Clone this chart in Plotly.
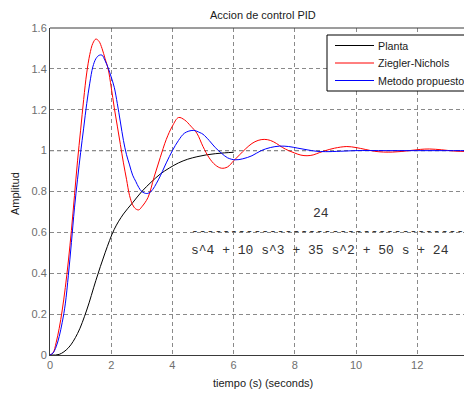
import plotly.graph_objects as go

# ---------------- data ----------------
t_planta = [0, 0.3, 0.6, 0.9, 1.2, 1.5, 1.8, 2.1, 2.4, 2.7, 3.0, 3.3, 3.6, 3.9,
            4.2, 4.5, 4.8, 5.1, 5.4, 5.7, 6.0]
y_planta = [0, 0.003, 0.035, 0.105, 0.22, 0.365, 0.50, 0.615, 0.69, 0.745, 0.80,
            0.845, 0.885, 0.915, 0.94, 0.958, 0.97, 0.979, 0.985, 0.989, 0.992]

t_zn = [0, 0.1, 0.2, 0.3, 0.4, 0.5, 0.6, 0.7, 0.8, 0.9, 1.0, 1.1, 1.2, 1.3, 1.4,
        1.5, 1.6, 1.7, 1.8, 1.9, 2.0, 2.1, 2.2, 2.3, 2.4, 2.5, 2.6, 2.7, 2.8, 2.9,
        3.0, 3.2, 3.4, 3.6, 3.8, 4.0, 4.2, 4.4, 4.6, 4.8, 5.0, 5.2, 5.4, 5.6, 5.8,
        6.0, 6.2, 6.4, 6.6, 6.8, 7.0, 7.2, 7.4, 7.6, 7.8, 8.0, 8.2, 8.4, 8.6, 8.8,
        9.0, 9.3, 9.7, 10.0, 10.3, 10.6, 10.9, 11.2, 11.5, 11.8, 12.1, 12.4, 12.8,
        13.2, 13.6, 14.0]
y_zn = [0, 0.01, 0.06, 0.13, 0.22, 0.33, 0.46, 0.61, 0.78, 0.95, 1.10, 1.25, 1.38,
        1.47, 1.525, 1.546, 1.535, 1.50, 1.45, 1.40, 1.31, 1.21, 1.12, 1.03, 0.94,
        0.86, 0.78, 0.735, 0.715, 0.71, 0.725, 0.77, 0.87, 0.965, 1.055, 1.12,
        1.162, 1.15, 1.12, 1.085, 1.02, 0.965, 0.93, 0.914, 0.92, 0.95, 0.98,
        1.01, 1.035, 1.05, 1.055, 1.05, 1.035, 1.015, 1.0, 0.988, 0.978, 0.975,
        0.979, 0.99, 1.0, 1.012, 1.02, 1.015, 1.006, 0.997, 0.993, 0.993, 0.996,
        1.001, 1.006, 1.008, 1.004, 0.998, 0.996, 0.997]

t_mp = [0, 0.1, 0.2, 0.3, 0.4, 0.5, 0.6, 0.7, 0.8, 0.9, 1.0, 1.1, 1.2, 1.3, 1.4,
        1.5, 1.6, 1.7, 1.8, 1.9, 2.0, 2.1, 2.2, 2.3, 2.4, 2.5, 2.6, 2.7, 2.8, 2.9,
        3.0, 3.16, 3.3, 3.54, 3.8, 4.0, 4.2, 4.4, 4.68, 4.9, 5.0, 5.2, 5.4, 5.6,
        5.8, 6.05, 6.3, 6.6, 6.9, 7.2, 7.5, 7.8, 8.1, 8.4, 8.7, 9.0, 9.5, 10.0,
        11.0, 12.0, 13.0, 14.0]
y_mp = [0, 0.01, 0.04, 0.09, 0.16, 0.25, 0.39, 0.55, 0.72, 0.86, 0.99, 1.11,
        1.23, 1.33, 1.41, 1.45, 1.466, 1.467, 1.44, 1.405, 1.36, 1.31, 1.23,
        1.14, 1.05, 0.98, 0.93, 0.88, 0.85, 0.82, 0.80, 0.79, 0.80, 0.857, 0.94,
        1.0, 1.05, 1.086, 1.099, 1.088, 1.08, 1.05, 1.015, 0.988, 0.965, 0.955,
        0.96, 0.975, 1.0, 1.015, 1.022, 1.02, 1.012, 1.004, 0.997, 0.995, 0.997,
        1.0, 1.0, 1.0, 1.0, 1.0]

x_ticks = [0, 2, 4, 6, 8, 10, 12]
y_ticks = [0, 0.2, 0.4, 0.6, 0.8, 1.0, 1.2, 1.4, 1.6]
y_tick_labels = ["0", "0.2", "0.4", "0.6", "0.8", "1", "1.2", "1.4", "1.6"]

series_names = ["Planta", "Ziegler-Nichols", "Metodo propuesto"]
series_colors = ["#000000", "#ff0000", "#0000ff"]

title_text = "Accion de control PID"
x_title = "tiempo (s) (seconds)"
y_title = "Amplitud"
tf_num = "24"
tf_den = "s^4 + 10 s^3 + 35 s^2 + 50 s + 24"

# ---------------- layout geometry ----------------
# The page body adds an 8px offset, so the figure is laid out 8px up/left.
W, H = 472, 394
OFF = 8
REF_L, REF_T, REF_R, REF_B = 50, 28, 472, 355   # axes box in the reference picture
PW, PH = REF_R - REF_L, REF_B - REF_T
L, T = REF_L - OFF, REF_T - OFF
R = W - L - PW
B = H - T - PH


def px(xp):
    return (xp - REF_L) / PW


def py(yp):
    return (REF_B - yp) / PH


X_MAX = 13.79
XS = PW / X_MAX  # pixels per second

fig = go.Figure()
for tt, yy, name, col in zip([t_planta, t_zn, t_mp], [y_planta, y_zn, y_mp],
                             series_names, series_colors):
    fig.add_trace(go.Scatter(x=tt, y=yy, mode="lines", name=name,
                             line=dict(color=col, width=1, shape="spline"),
                             showlegend=False, hoverinfo="skip"))

grid_dash = "4px,3px"
fig.update_layout(
    width=W, height=H,
    margin=dict(l=L, r=R, t=T, b=B),
    paper_bgcolor="white", plot_bgcolor="white",
    font=dict(family="Liberation Sans, Arial, sans-serif", size=11, color="#222"),
    xaxis=dict(range=[0, X_MAX], tickvals=x_ticks, showgrid=True,
               gridcolor="#8a8a8a", griddash=grid_dash, gridwidth=1,
               showline=True, linecolor="#3a3a3a", linewidth=1, zeroline=False,
               ticks="", tickfont=dict(size=11, color="#6e6e6e")),
    yaxis=dict(range=[0, 1.6], tickvals=y_ticks, ticktext=y_tick_labels,
               showgrid=True, gridcolor="#8a8a8a", griddash=grid_dash,
               gridwidth=1, showline=True, linecolor="#3a3a3a", linewidth=1,
               zeroline=False, ticks="", tickfont=dict(size=11, color="#6e6e6e")),
)

shapes = []
# top border of the axes box
shapes.append(dict(type="line", xref="paper", yref="paper", x0=0, x1=1.02, y0=1, y1=1,
                   line=dict(color="#3a3a3a", width=1)))
# steady-state reference line
shapes.append(dict(type="line", xref="paper", yref="y", x0=0, x1=1, y0=1, y1=1,
                   line=dict(color="#000000", width=1, dash=grid_dash), layer="between"))

# legend box
shapes.append(dict(type="rect", xref="paper", yref="paper", x0=px(327), x1=px(480),
                   y0=py(91), y1=py(35), line=dict(color="#000000", width=1),
                   fillcolor="white", layer="above"))
rows = [45.5, 63, 80.5]
annotations = []
for r, name, col in zip(rows, series_names, series_colors):
    shapes.append(dict(type="line", xref="paper", yref="paper", x0=px(335), x1=px(374),
                       y0=py(r), y1=py(r), line=dict(color=col, width=1), layer="above"))
    annotations.append(dict(xref="paper", yref="paper", x=px(376), y=py(r), text=name,
                            xanchor="left", yanchor="middle", showarrow=False,
                            font=dict(size=10.7, color="#1a1a1a")))

# title and axis titles
annotations.append(dict(xref="paper", yref="paper", x=px(263), y=py(15), text=title_text,
                        showarrow=False, xanchor="center", yanchor="middle",
                        font=dict(size=11, color="#1a1a1a")))
annotations.append(dict(xref="paper", yref="paper", x=px(263), y=py(383), text=x_title,
                        showarrow=False, xanchor="center", yanchor="middle",
                        font=dict(size=11, color="#1a1a1a")))
annotations.append(dict(xref="paper", yref="paper", x=px(15), y=py(194), text=y_title,
                        showarrow=False, xanchor="center", yanchor="middle", textangle=-90,
                        font=dict(size=11, color="#1a1a1a")))

# transfer function text
mono = dict(family="Liberation Mono, Courier New, monospace", size=13, color="#333333")
annotations.append(dict(xref="x", yref="y", x=(311 - REF_L) / XS, y=0.69, text=tf_num,
                        showarrow=False, xanchor="left", yanchor="middle", font=mono))
annotations.append(dict(xref="x", yref="y", x=(189 - REF_L) / XS, y=0.602, text="-" * 35,
                        showarrow=False, xanchor="left", yanchor="middle", font=mono))
annotations.append(dict(xref="x", yref="y", x=(189 - REF_L) / XS, y=0.509, text=tf_den,
                        showarrow=False, xanchor="left", yanchor="middle", font=mono))

fig.update_layout(shapes=shapes, annotations=annotations)
fig.write_html("out.html")
